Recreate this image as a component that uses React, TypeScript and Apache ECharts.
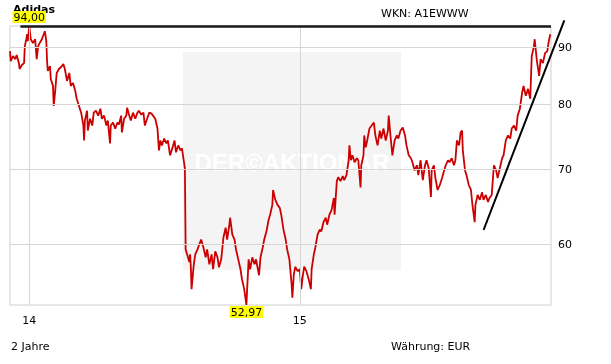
import React, { useEffect, useRef } from "react";
import * as echarts from "echarts";

const dates: string[] = [
  "2013-12-06","2013-12-07","2013-12-10","2013-12-13","2013-12-15","2013-12-18","2013-12-19","2013-12-22","2013-12-25","2013-12-26",
  "2013-12-28","2013-12-29","2013-12-30","2014-01-01","2014-01-03","2014-01-06","2014-01-09","2014-01-11","2014-01-13","2014-01-15",
  "2014-01-18","2014-01-21","2014-01-22","2014-01-24","2014-01-25","2014-01-26","2014-01-29","2014-01-30","2014-02-02","2014-02-03",
  "2014-02-05","2014-02-07","2014-02-10","2014-02-13","2014-02-16","2014-02-18","2014-02-21","2014-02-24","2014-02-26","2014-03-01",
  "2014-03-04","2014-03-06","2014-03-09","2014-03-12","2014-03-15","2014-03-16","2014-03-17","2014-03-20","2014-03-21","2014-03-24",
  "2014-03-27","2014-03-29","2014-04-01","2014-04-04","2014-04-07","2014-04-09","2014-04-12","2014-04-15","2014-04-17","2014-04-20",
  "2014-04-21","2014-04-24","2014-04-27","2014-04-30","2014-05-02","2014-05-05","2014-05-06","2014-05-09","2014-05-12","2014-05-13",
  "2014-05-16","2014-05-18","2014-05-21","2014-05-24","2014-05-27","2014-05-29","2014-06-01","2014-06-04","2014-06-06","2014-06-09",
  "2014-06-12","2014-06-15","2014-06-17","2014-06-20","2014-06-23","2014-06-25","2014-06-27","2014-06-29","2014-07-02","2014-07-05",
  "2014-07-07","2014-07-10","2014-07-13","2014-07-16","2014-07-18","2014-07-21","2014-07-24","2014-07-26","2014-07-28","2014-07-30",
  "2014-07-31","2014-08-05","2014-08-06","2014-08-07","2014-08-08","2014-08-11","2014-08-13","2014-08-16","2014-08-18","2014-08-21",
  "2014-08-24","2014-08-27","2014-08-29","2014-09-01","2014-09-04","2014-09-06","2014-09-09","2014-09-12","2014-09-14","2014-09-17",
  "2014-09-20","2014-09-23","2014-09-25","2014-09-28","2014-09-29","2014-10-02","2014-10-05","2014-10-07","2014-10-10","2014-10-13",
  "2014-10-15","2014-10-18","2014-10-21","2014-10-22","2014-10-24","2014-10-26","2014-10-29","2014-11-01","2014-11-03","2014-11-07",
  "2014-11-09","2014-11-12","2014-11-14","2014-11-17","2014-11-20","2014-11-22","2014-11-25","2014-11-26","2014-11-29","2014-12-02",
  "2014-12-05","2014-12-07","2014-12-10","2014-12-13","2014-12-15","2014-12-18","2014-12-21","2014-12-22","2014-12-24","2014-12-26",
  "2014-12-29","2015-01-01","2015-01-03","2015-01-05","2015-01-07","2015-01-10","2015-01-13","2015-01-16","2015-01-17","2015-01-20",
  "2015-01-22","2015-01-25","2015-01-28","2015-01-30","2015-02-02","2015-02-05","2015-02-07","2015-02-10","2015-02-13","2015-02-16",
  "2015-02-17","2015-02-20","2015-02-22","2015-02-25","2015-02-28","2015-03-02","2015-03-05","2015-03-08","2015-03-09","2015-03-11",
  "2015-03-13","2015-03-16","2015-03-19","2015-03-21","2015-03-24","2015-03-25","2015-03-28","2015-03-29","2015-03-31","2015-04-02",
  "2015-04-05","2015-04-08","2015-04-11","2015-04-13","2015-04-16","2015-04-19","2015-04-21","2015-04-24","2015-04-27","2015-04-30",
  "2015-05-01","2015-05-04","2015-05-06","2015-05-09","2015-05-12","2015-05-14","2015-05-17","2015-05-20","2015-05-23","2015-05-25",
  "2015-05-28","2015-05-31","2015-06-02","2015-06-05","2015-06-08","2015-06-10","2015-06-13","2015-06-16","2015-06-19","2015-06-21",
  "2015-06-24","2015-06-27","2015-06-28","2015-07-01","2015-07-03","2015-07-06","2015-07-09","2015-07-12","2015-07-14","2015-07-17",
  "2015-07-20","2015-07-22","2015-07-25","2015-07-28","2015-07-30","2015-08-01","2015-08-04","2015-08-06","2015-08-08","2015-08-09",
  "2015-08-12","2015-08-14","2015-08-17","2015-08-20","2015-08-22","2015-08-25","2015-08-26","2015-08-29","2015-09-01","2015-09-04",
  "2015-09-06","2015-09-09","2015-09-12","2015-09-14","2015-09-17","2015-09-20","2015-09-23","2015-09-25","2015-09-28","2015-10-01",
  "2015-10-03","2015-10-06","2015-10-09","2015-10-12","2015-10-14","2015-10-17","2015-10-20","2015-10-22","2015-10-25","2015-10-28",
  "2015-10-30","2015-11-02","2015-11-05","2015-11-08","2015-11-10","2015-11-13","2015-11-14","2015-11-17","2015-11-20","2015-11-22",
  "2015-11-25","2015-11-28","2015-12-01","2015-12-03","2015-12-05"
];

const closes: number[] = [
  89.27,87.46,88.36,87.82,88.54,87.10,86.05,86.75,87.10,90.18,
  91.48,92.42,91.11,94.00,91.48,90.74,91.48,87.82,90.18,90.74,
  91.48,92.60,92.99,91.11,87.46,85.70,86.57,84.30,83.11,79.77,
  82.27,85.35,86.05,86.40,86.92,86.05,83.96,85.35,83.11,83.62,
  82.27,80.94,79.77,78.66,76.60,74.29,77.39,78.98,75.82,77.68,
  76.60,78.66,78.98,78.18,79.30,77.68,78.18,76.60,77.39,73.84,
  76.60,77.08,76.13,77.08,76.76,78.18,75.52,77.68,78.18,79.46,
  78.18,77.39,78.66,77.68,78.66,78.98,78.34,78.66,76.60,77.68,
  78.66,78.50,78.18,77.68,76.13,72.80,74.29,73.54,74.59,73.84,
  74.29,72.06,73.09,74.29,72.50,73.54,72.80,73.09,71.62,70.13,
  59.38,57.87,58.78,57.31,54.73,57.59,58.78,59.38,59.91,60.60,
  59.62,58.42,59.38,57.59,58.78,57.01,59.14,58.42,57.24,58.18,
  60.85,62.10,60.60,62.48,63.38,61.22,60.60,59.38,58.18,57.01,
  55.86,54.73,52.97,54.73,58.18,57.01,58.42,57.59,58.18,56.31,
  58.42,59.62,60.60,61.60,63.12,63.77,65.08,67.10,65.75,65.08,
  64.68,63.77,61.85,60.60,59.38,58.18,55.29,53.76,56.43,57.30,
  56.78,57.01,54.73,56.20,57.31,56.78,55.86,54.73,57.01,58.78,
  59.62,61.22,61.85,61.60,62.80,63.38,62.48,63.77,64.42,66.01,
  63.77,68.34,68.90,68.34,69.04,68.48,69.18,71.33,73.54,71.33,
  72.06,71.04,71.62,71.33,67.46,70.60,72.06,75.06,73.24,74.29,
  76.13,76.60,77.08,75.06,73.54,75.82,74.59,76.13,74.29,75.82,
  78.18,74.29,72.06,74.29,75.06,74.59,75.82,76.29,75.06,73.54,
  72.06,71.62,71.04,69.85,70.60,69.18,71.33,68.48,70.60,71.33,
  70.17,66.15,69.85,70.60,68.76,67.10,67.79,68.76,69.56,70.60,
  71.33,71.04,71.62,70.60,71.33,74.29,73.54,75.52,75.82,72.80,
  69.85,69.18,67.79,67.10,65.08,62.80,65.08,66.42,65.75,66.78,
  65.75,66.42,65.48,66.01,66.42,70.60,69.85,68.76,70.17,71.62,
  72.06,74.29,75.06,74.59,76.13,76.60,75.82,78.18,79.30,81.94,
  83.11,81.43,82.60,80.94,88.36,90.18,91.48,87.46,84.83,87.82,
  87.10,88.91,89.27,91.11,92.42
];

const yTickValues: number[] = [60, 70, 80, 90];
const xTickDates: string[] = ["2014-01-01", "2015-01-01"];
const xTickLabels: string[] = ["14", "15"];
const xRange: string[] = ["2013-12-06", "2015-12-06"];
const maxLineStart = "2013-12-20";
const trendDates: string[] = ["2015-09-06", "2015-12-24"];
const trendValues: number[] = [61.8, 95.1];

const FONT = "DejaVu Sans";

const t = (s: string) => (echarts as any).time.parse(s).getTime();
const fmt = (v: number) => v.toFixed(2).replace(".", ",");

export default function App() {
  const ref = useRef<HTMLDivElement>(null);

  useEffect(() => {
    if (!ref.current) return;
    const chart = echarts.init(ref.current, undefined, { renderer: "svg" });
    const data = dates.map((d, i) => [t(d), closes[i]]);
    const maxV = Math.max(...closes);
    const minV = Math.min(...closes);
    const xMin = t(xRange[0]);
    const xMax = t(xRange[1]);

    const option: any = {
      animation: false,
      grid: {
        left: 10,
        right: 60,
        top: 26,
        bottom: 59,
        show: true,
        borderColor: "#cfcfcf",
        borderWidth: 1,
        backgroundColor: "transparent",
      },
      xAxis: {
        type: "time",
        min: xMin,
        max: xMax,
        show: false,
      },
      yAxis: {
        type: "log",
        logBase: 10,
        min: minV,
        max: maxV,
        show: false,
      },
      graphic: [
        {
          type: "rect",
          z: 0,
          shape: { x: 183, y: 52, width: 218, height: 218 },
          style: { fill: "#f4f4f4" },
          silent: true,
        },
        {
          type: "text",
          z: 0,
          x: 292,
          y: 162,
          style: {
            text: "DER©AKTIONÄR",
            fill: "#ffffff",
            font: "bold 24px 'Liberation Sans'",
            align: "center",
            verticalAlign: "middle",
          },
          silent: true,
        },
        {
          type: "text",
          z: 0,
          x: 13,
          y: 4,
          style: { text: "Adidas", fill: "#000", font: `bold 11px '${FONT}'`, verticalAlign: "top" },
        },
        {
          type: "text",
          z: 0,
          x: 381,
          y: 8,
          style: { text: "WKN: A1EWWW", fill: "#000", font: `11px '${FONT}'`, verticalAlign: "top" },
        },
        {
          type: "text",
          z: 0,
          x: 11,
          y: 341,
          style: { text: "2 Jahre", fill: "#000", font: `11px '${FONT}'`, verticalAlign: "top" },
        },
        {
          type: "text",
          z: 0,
          x: 391,
          y: 341,
          style: { text: "Währung: EUR", fill: "#000", font: `11px '${FONT}'`, verticalAlign: "top" },
        },
      ],
      series: [
        {
          type: "line",
          data: [],
          z: 1,
          silent: true,
          markLine: {
            silent: true,
            symbol: ["none", "none"],
            lineStyle: { color: "#d6d6d6", width: 1, type: "solid" },
            label: {
              color: "#000",
              fontFamily: FONT,
              fontSize: 11,
            },
            data: [
              ...yTickValues.map((v) => ({
                yAxis: v,
                label: { position: "end", distance: 7, formatter: String(v) },
              })),
              ...xTickDates.map((d, i) => ({
                xAxis: t(d),
                label: { position: "start", distance: 10, formatter: xTickLabels[i] },
              })),
            ],
          },
        },
        {
          type: "line",
          data,
          z: 3,
          symbol: "none",
          showSymbol: false,
          lineStyle: { color: "#cc0000", width: 1.8 },
          itemStyle: { color: "#cc0000" },
          markPoint: {
            symbol: "circle",
            symbolSize: 0,
            silent: true,
            label: {
              color: "#000",
              backgroundColor: "#ffff00",
              fontFamily: FONT,
              fontSize: 11,
              padding: [1, 1, 0, 1],
              formatter: (p: any) => fmt(p.value),
            },
            data: [
              { type: "max", label: { position: "top", distance: 3 } },
              { type: "min", label: { position: "bottom", distance: 1 } },
            ],
          },
        },
        {
          type: "line",
          data: [],
          z: 5,
          silent: true,
          markLine: {
            silent: true,
            symbol: ["none", "none"],
            label: { show: false },
            lineStyle: { color: "#1a1a1a", width: 2.5, type: "solid" },
            data: [[{ coord: [t(maxLineStart), maxV] }, { coord: [xMax, maxV] }]],
          },
        },
        {
          type: "custom",
          z: 6,
          silent: true,
          clip: false,
          data: [[t(trendDates[0]), trendValues[0], t(trendDates[1]), trendValues[1]]],
          encode: { x: [0, 2], y: [1, 3] },
          renderItem: (params: any, api: any) => {
            const p1 = api.coord([api.value(0), api.value(1)]);
            const p2 = api.coord([api.value(2), api.value(3)]);
            return {
              type: "line",
              shape: { x1: p1[0], y1: p1[1], x2: p2[0], y2: p2[1] },
              style: { stroke: "#000", lineWidth: 2 },
            };
          },
        },
      ],
    };

    chart.setOption(option);
    return () => chart.dispose();
  }, []);

  return (
    <div
      ref={ref}
      style={{ position: "fixed", left: 0, top: 0, width: 611, height: 364 }}
    />
  );
}
